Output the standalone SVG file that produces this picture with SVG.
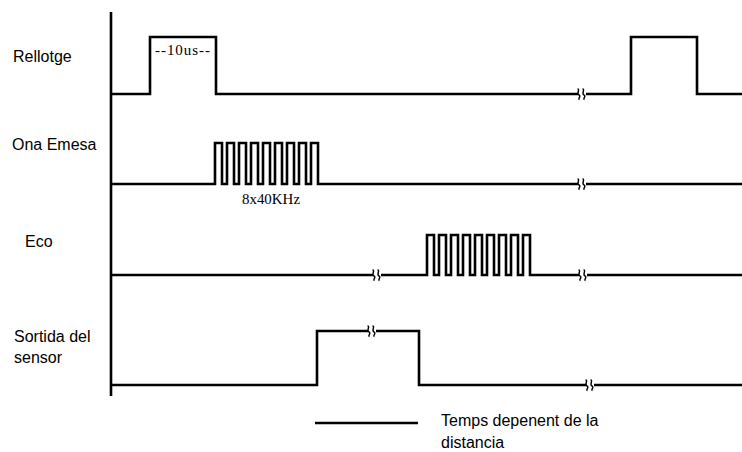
<svg xmlns="http://www.w3.org/2000/svg" width="742" height="452" viewBox="0 0 742 452">
<defs>
<style>
.sig{fill:none;stroke:#000;stroke-width:2.6;stroke-linejoin:miter}
.brk{fill:none;stroke:#000;stroke-width:1.4}
.lbl{font-family:"Liberation Sans",Arial,sans-serif;font-size:16px;fill:#000}
.ser{font-family:"Liberation Serif","Times New Roman",serif;fill:#000}
</style>
<path id="squig" class="brk" d="M -2.5 -5 C 0.5 -5 -4 0 -1 1 C 1.5 2 -2.5 5 -0.5 5.5 M 2.5 -5 C 5.5 -5 1 0 4 1 C 6.5 2 2.5 5 4.5 5.5"/>
</defs>
<rect width="742" height="452" fill="#fff"/>
<g id="axis"><line class="sig" x1="111" y1="12" x2="111" y2="396"/></g>
<g id="labels">
<text class="lbl" x="13" y="62">Rellotge</text>
<text class="lbl" x="12" y="150">Ona Emesa</text>
<text class="lbl" x="25" y="247">Eco</text>
<text class="lbl" x="14" y="342">Sortida del</text>
<text class="lbl" x="14" y="363">sensor</text>
</g>
<g id="rellotge">
<path class="sig" d="M111 94 H150 V37 H216 V94 H578"/>
<path class="sig" d="M586 94 H631 V37 H697 V94 H742"/>
<use href="#squig" x="580" y="94"/>
<text class="ser" x="155" y="55" font-size="15" textLength="55" lengthAdjust="spacing">--10us--</text>
</g>
<g id="ona-emesa">
<path class="sig" d="M111 184 H215 V143 H222 V184 H227 V143 H234 V184 H239 V143 H246 V184 H251 V143 H258 V184 H263 V143 H270 V184 H275 V143 H282 V184 H287 V143 H294 V184 H299 V143 H306 V184 H311 V143 H318 V184 H578"/>
<path class="sig" d="M586 184 H742"/>
<use href="#squig" x="580" y="184"/>
<text class="ser" x="242" y="204" font-size="14" textLength="58" lengthAdjust="spacingAndGlyphs">8x40KHz</text>
</g>
<g id="eco">
<path class="sig" d="M111 275 H373"/>
<path class="sig" d="M381 275 H427 V235 H434 V275 H439 V235 H446 V275 H451 V235 H458 V275 H463 V235 H470 V275 H475 V235 H482 V275 H487 V235 H494 V275 H499 V235 H506 V275 H511 V235 H518 V275 H523 V235 H530 V275 H579"/>
<path class="sig" d="M587 275 H742"/>
<use href="#squig" x="375" y="275"/>
<use href="#squig" x="581" y="275"/>
</g>
<g id="sortida">
<path class="sig" d="M111 385 H317 V331 H368"/>
<path class="sig" d="M376 331 H419 V385 H586"/>
<path class="sig" d="M594 385 H742"/>
<use href="#squig" x="370" y="331"/>
<use href="#squig" x="588" y="385"/>
</g>
<g id="legend">
<line class="sig" x1="315" y1="423" x2="418" y2="423"/>
<text class="lbl" x="441" y="426">Temps depenent de la</text>
<text class="lbl" x="441" y="448">distancia</text>
</g>
</svg>
